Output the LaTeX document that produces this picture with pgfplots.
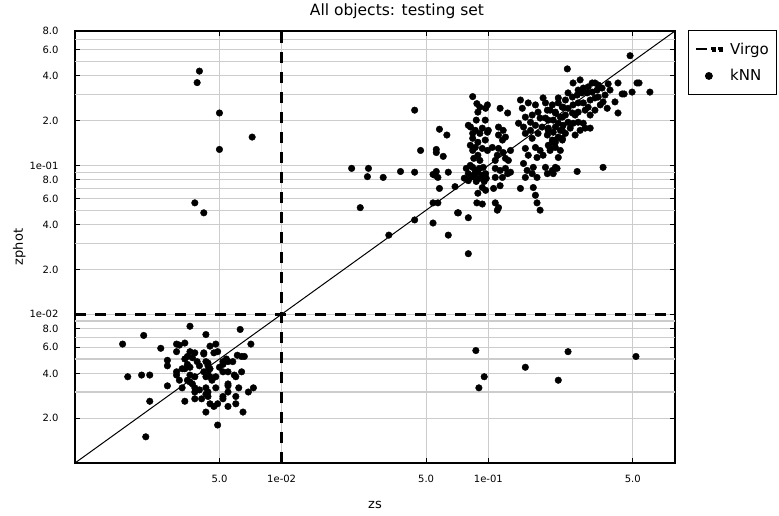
\documentclass[border=0pt]{standalone}
\usepackage{pgfplots}
\pgfplotsset{compat=1.18}
\usepackage{fontspec}
\setmainfont{DejaVu Sans}
\definecolor{gridgray}{RGB}{204,204,204}

\begin{document}
\begin{tikzpicture}
\begin{axis}[
    scale only axis,
    width=600pt, height=432pt,
    xmode=log, ymode=log,
    xmin=0.001, xmax=0.8,
    ymin=0.001, ymax=0.8,
    xtick={0.005,0.01,0.05,0.1,0.5},
    xticklabels={5.0,1e-02,5.0,1e-01,5.0},
    ytick={0.002,0.004,0.006,0.008,0.01,0.02,0.04,0.06,0.08,0.1,0.2,0.4,0.6,0.8},
    yticklabels={2.0,4.0,6.0,8.0,1e-02,2.0,4.0,6.0,8.0,1e-01,2.0,4.0,6.0,8.0},
    extra y ticks={0.003,0.005,0.007,0.009,0.03,0.05,0.07,0.09,0.3,0.5,0.7},
    extra y tick labels={},
    extra y tick style={grid=major, tick style={draw=none}},
    minor tick num=0,
    grid=major,
    major grid style={gridgray, line width=1.1pt},
    major tick length=5pt,
    every tick/.style={black, line width=1pt},
    axis line style={line width=1.3pt},
    tick label style={font=\fontsize{10}{12}\selectfont},
    xticklabel style={yshift=-9pt},
    yticklabel style={xshift=-13pt},
    title={All objects: testing set},
    title style={font=\fontsize{15.5}{18}\selectfont, anchor=base, yshift=10pt, xshift=22pt},
    xlabel={zs},
    ylabel={zphot},
    label style={font=\fontsize{13}{16}\selectfont},
    xlabel style={at={(axis description cs:0.5,-0.097)}, anchor=center},
    ylabel style={at={(axis description cs:-0.093,0.5)}, anchor=center},
    legend style={at={(1,1)}, anchor=north west, xshift=13pt, yshift=1pt,
        draw=black, line width=1.2pt, inner xsep=6pt, inner ysep=10pt,
        font=\fontsize{15}{18}\selectfont, row sep=10pt},
    legend cell align=left,
]
% y = x reference line
\addplot[black, line width=1pt, forget plot] coordinates {(0.001,0.001) (0.8,0.8)};

% Virgo limits
\addplot[black, line width=2.6pt, dash pattern=on 11pt off 9pt,
    legend image code/.code={
        \draw[line width=2.6pt] (0pt,0pt) -- (12pt,0pt);
        \fill (16.5pt,-1.2pt) rectangle (18.9pt,1.2pt);
        \fill (23.5pt,-1.2pt) rectangle (25.9pt,1.2pt);
        \path (31pt,0pt);
    }] coordinates {(0.01,0.001) (0.01,0.8)};
\addlegendentry{Virgo}
\addplot[black, line width=2.6pt, dash pattern=on 11pt off 9pt, forget plot]
    coordinates {(0.001,0.01) (0.8,0.01)};

% kNN estimates
\addplot[only marks, mark=*, mark size=3.3pt, black,
    legend image code/.code={\fill (13pt,0pt) circle (3.3pt); \path (31pt,0pt);}]
    coordinates {
    (0.0036,0.0083) (0.00215,0.0072) (0.0043,0.0073) (0.0063,0.0079)
    (0.0017,0.0063) (0.0026,0.0059) (0.0031,0.0063) (0.0034,0.0064)
    (0.0031,0.0056) (0.0032,0.0062) (0.0045,0.0061) (0.0048,0.0063)
    (0.0071,0.0063) (0.0036,0.0056) (0.0035,0.0052) (0.0038,0.0055)
    (0.0042,0.0055) (0.0042,0.0054) (0.0047,0.0055) (0.0049,0.0056)
    (0.0028,0.0049) (0.0028,0.0045) (0.0034,0.0050) (0.0037,0.0051)
    (0.0039,0.0048) (0.0035,0.0046) (0.0036,0.0044) (0.0034,0.0043)
    (0.0043,0.0048) (0.0044,0.0047) (0.0040,0.0045) (0.0044,0.0045)
    (0.0045,0.0043) (0.0052,0.0048) (0.0054,0.0050) (0.0055,0.0048)
    (0.0058,0.0048) (0.0052,0.0046) (0.0061,0.0053) (0.0064,0.0052)
    (0.0066,0.0052) (0.0018,0.0038) (0.0021,0.0039) (0.0023,0.0039)
    (0.0031,0.0041) (0.0033,0.0043) (0.0032,0.0036) (0.0031,0.0039)
    (0.0036,0.0039) (0.0038,0.0038) (0.0036,0.0035) (0.0035,0.0036)
    (0.0042,0.0041) (0.0043,0.0038) (0.0045,0.0038) (0.0044,0.0041)
    (0.0048,0.0038) (0.0046,0.0036) (0.0050,0.0044) (0.0052,0.0041)
    (0.0055,0.0041) (0.0059,0.0039) (0.0060,0.0038) (0.0064,0.0041)
    (0.0028,0.0033) (0.0033,0.0032) (0.0037,0.0034) (0.0038,0.0032)
    (0.0040,0.0031) (0.0038,0.0030) (0.0043,0.0032) (0.0044,0.0030)
    (0.0043,0.0029) (0.0048,0.0032) (0.0055,0.0033) (0.0055,0.0030)
    (0.0052,0.0028) (0.0052,0.0027) (0.0055,0.0034) (0.0062,0.0032)
    (0.0069,0.0030) (0.0073,0.0032) (0.0023,0.0026) (0.0034,0.0026)
    (0.0038,0.0027) (0.0041,0.0027) (0.0044,0.0028) (0.0045,0.0025)
    (0.0047,0.0024) (0.0049,0.0025) (0.0060,0.0028) (0.0060,0.0025)
    (0.0055,0.0024) (0.0065,0.0022) (0.0043,0.0022) (0.0049,0.0018)
    (0.0022,0.0015)
    (0.0040,0.43) (0.0039,0.36) (0.0050,0.225) (0.0072,0.155)
    (0.0050,0.128) (0.0038,0.056) (0.0042,0.048)
    (0.044,0.235) (0.058,0.175) (0.063,0.16) (0.047,0.126)
    (0.056,0.128) (0.056,0.122) (0.0605,0.115) (0.0218,0.0955)
    (0.0263,0.0955) (0.026,0.084) (0.031,0.083) (0.0376,0.091)
    (0.044,0.090) (0.056,0.091) (0.055,0.086) (0.057,0.083)
    (0.054,0.087) (0.064,0.090) (0.069,0.072) (0.058,0.070)
    (0.0765,0.082) (0.024,0.052) (0.054,0.056) (0.057,0.056)
    (0.071,0.048) (0.044,0.043) (0.054,0.041) (0.033,0.034)
    (0.064,0.034) (0.080,0.0255)
    (0.084,0.29) (0.088,0.26) (0.091,0.246) (0.097,0.242)
    (0.099,0.255) (0.089,0.228) (0.114,0.242) (0.124,0.225)
    (0.146,0.242) (0.169,0.255) (0.184,0.284) (0.174,0.228)
    (0.163,0.218) (0.151,0.211) (0.193,0.235) (0.204,0.255)
    (0.211,0.225) (0.228,0.246) (0.228,0.211) (0.082,0.181)
    (0.0865,0.172) (0.084,0.164) (0.091,0.164) (0.0935,0.178)
    (0.099,0.167) (0.100,0.172) (0.112,0.181) (0.118,0.172)
    (0.112,0.16) (0.121,0.155) (0.117,0.148) (0.148,0.181)
    (0.151,0.164) (0.160,0.172) (0.169,0.186) (0.182,0.181)
    (0.195,0.172) (0.211,0.181) (0.228,0.172) (0.211,0.148)
    (0.228,0.152) (0.174,0.164) (0.163,0.152) (0.084,0.152)
    (0.089,0.143) (0.0865,0.132) (0.084,0.126) (0.0935,0.130)
    (0.099,0.126) (0.089,0.117) (0.085,0.1115) (0.091,0.108)
    (0.1045,0.132) (0.112,0.130) (0.118,0.122) (0.1105,0.117)
    (0.121,0.1115) (0.125,0.108) (0.151,0.130) (0.169,0.132)
    (0.178,0.126) (0.156,0.117) (0.172,0.113) (0.184,0.117)
    (0.199,0.126) (0.211,0.132) (0.204,0.143)
    (0.084,0.097) (0.0865,0.0925) (0.089,0.090) (0.082,0.083)
    (0.0865,0.083) (0.0935,0.086) (0.097,0.088) (0.080,0.088)
    (0.091,0.082) (0.108,0.0955) (0.114,0.0925) (0.121,0.0955)
    (0.128,0.090) (0.108,0.083) (0.117,0.083) (0.124,0.088)
    (0.148,0.103) (0.154,0.0925) (0.165,0.097) (0.151,0.083)
    (0.163,0.088) (0.172,0.083) (0.189,0.097) (0.204,0.0925)
    (0.215,0.0955) (0.193,0.088) (0.206,0.088) (0.0935,0.071)
    (0.097,0.068) (0.089,0.065) (0.106,0.070) (0.143,0.070)
    (0.165,0.071) (0.169,0.063) (0.172,0.056) (0.178,0.050)
    (0.088,0.056) (0.0935,0.055) (0.108,0.056) (0.1105,0.050)
    (0.112,0.052) (0.080,0.0445) (0.0716,0.048)
    (0.0782,0.0955) (0.0818,0.100) (0.0855,0.087) (0.0904,0.0955)
    (0.0945,0.097) (0.0977,0.082) (0.080,0.079) (0.0874,0.078)
    (0.0955,0.078) (0.080,0.186) (0.0966,0.2015) (0.0818,0.1365)
    (0.0966,0.148) (0.0874,0.2015) (0.108,0.108) (0.128,0.126)
    (0.114,0.073)
    (0.143,0.275) (0.156,0.263) (0.189,0.263) (0.218,0.284)
    (0.195,0.2015) (0.178,0.208) (0.160,0.195) (0.140,0.192)
    (0.236,0.275) (0.263,0.218) (0.311,0.218) (0.328,0.235)
    (0.367,0.297) (0.278,0.3755) (0.228,0.148) (0.249,0.178)
    (0.278,0.172) (0.195,0.1365) (0.189,0.208) (0.263,0.160)
    (0.311,0.275) (0.388,0.321)
    (0.485,0.546) (0.241,0.445) (0.536,0.358) (0.524,0.358)
    (0.424,0.358) (0.380,0.353) (0.496,0.311) (0.605,0.311)
    (0.444,0.302) (0.454,0.302) (0.410,0.267) (0.424,0.225)
    (0.376,0.242) (0.318,0.358) (0.328,0.358) (0.340,0.347)
    (0.304,0.337) (0.288,0.331) (0.272,0.321) (0.257,0.358)
    (0.243,0.307) (0.255,0.288) (0.269,0.297) (0.284,0.307)
    (0.301,0.307) (0.318,0.311) (0.336,0.321) (0.355,0.331)
    (0.340,0.288) (0.328,0.284) (0.359,0.267) (0.348,0.255)
    (0.218,0.263) (0.230,0.246) (0.243,0.242) (0.257,0.255)
    (0.272,0.263) (0.288,0.263) (0.304,0.246) (0.294,0.235)
    (0.272,0.228) (0.255,0.225) (0.236,0.218) (0.223,0.211)
    (0.211,0.228) (0.199,0.235) (0.206,0.2015) (0.218,0.192)
    (0.230,0.186) (0.243,0.195) (0.257,0.192) (0.272,0.195)
    (0.288,0.192) (0.294,0.178) (0.311,0.178) (0.195,0.178)
    (0.206,0.167) (0.223,0.172) (0.236,0.164) (0.218,0.155)
    (0.204,0.148) (0.193,0.160) (0.211,0.143) (0.199,0.130)
    (0.223,0.126) (0.218,0.113) (0.211,0.097) (0.269,0.091)
    (0.359,0.097)
    (0.243,0.0056) (0.518,0.0052) (0.151,0.0044) (0.218,0.0036)
    (0.0955,0.0038) (0.090,0.0032) (0.087,0.0057)
    };
\addlegendentry{kNN}
\end{axis}
\pgfresetboundingbox
\path[use as bounding box] (-75pt,-52pt) rectangle (704pt,463pt);
\end{tikzpicture}
\end{document}
